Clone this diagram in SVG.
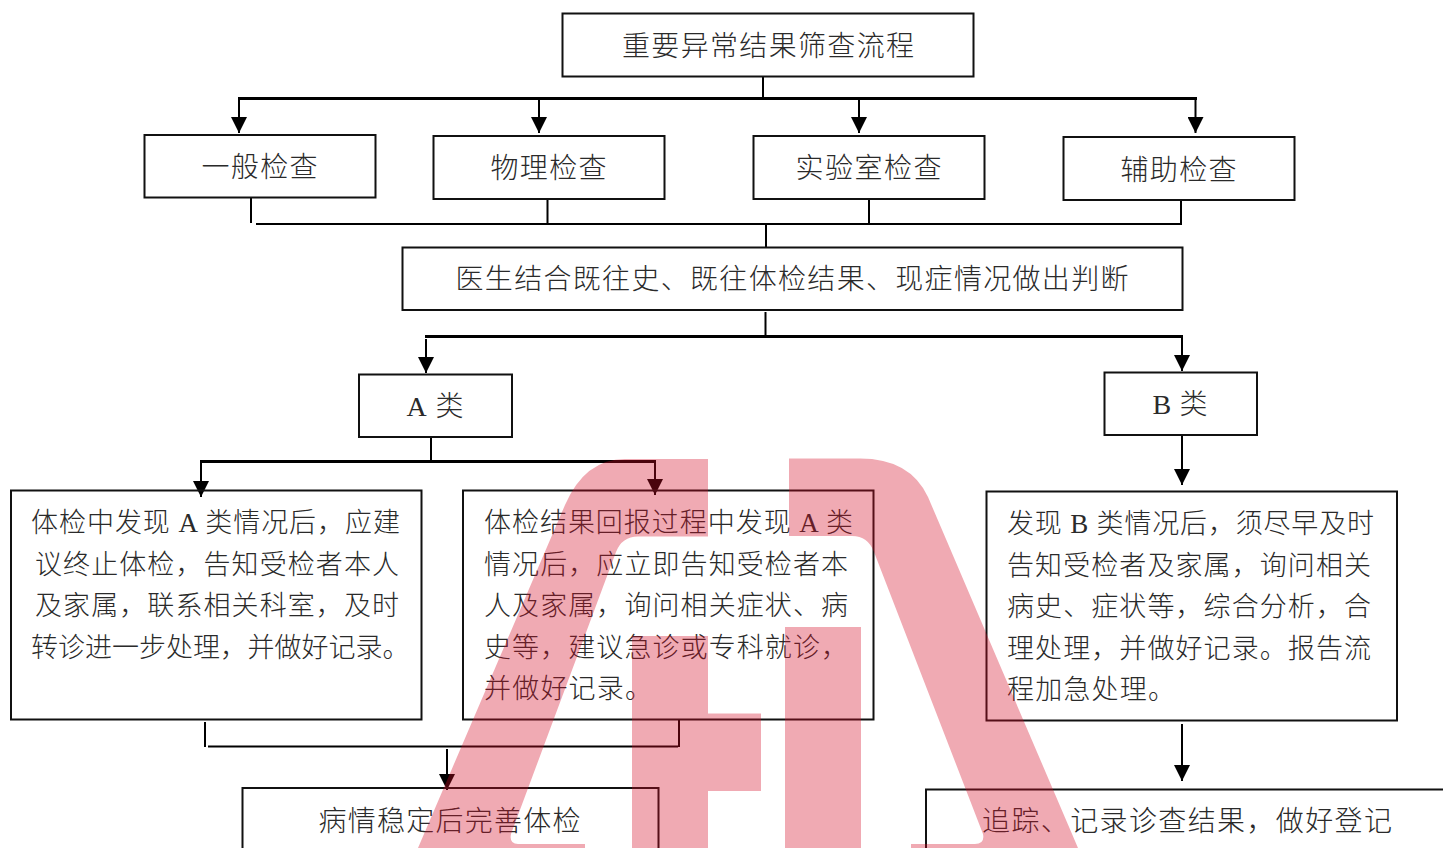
<svg xmlns="http://www.w3.org/2000/svg" width="1443" height="848" viewBox="0 0 1443 848">
<style>
.box{fill:none;stroke:#111;stroke-width:2}
.t{font-family:"Liberation Serif","Noto Sans CJK SC",serif;fill:#2a2a2a;font-size:28px;font-weight:300;text-anchor:start}
.b{font-size:27px}
.line{fill:none;stroke:#000;stroke-width:2}
.bus{fill:none;stroke:#000;stroke-width:3}
.arr{fill:none;stroke:#000;stroke-width:2;marker-end:url(#ah)}
.wm{fill:rgb(212,12,36);fill-opacity:.35}
</style>
<defs>
<marker id="ah" markerUnits="userSpaceOnUse" viewBox="0 0 16 16" refX="16" refY="8" markerWidth="16" markerHeight="16" orient="auto"><path d="M0 0L16 8L0 16Z" fill="#000"/></marker>
</defs>
<rect width="1443" height="848" fill="#fff"/>
<g id="connectors">
<path class="line" d="M763 76V98"/>
<path class="bus" d="M238 98.5H1197"/>
<path class="arr" d="M239 98V133"/>
<path class="arr" d="M539 98V133"/>
<path class="arr" d="M859 98V133"/>
<path class="arr" d="M1195.500 98V133"/>
<path class="line" d="M251 198V223M547.500 199V224M869 199V224M1181 200V224M256 224H1182M766 224V247"/>
<path class="line" d="M765.500 312V336"/>
<path class="bus" d="M425 336.500H1183"/>
<path class="arr" d="M426 339V373"/>
<path class="arr" d="M1182 337V371"/>
<path class="line" d="M431 437V461"/>
<path class="bus" d="M200 461.500H656"/>
<path class="arr" d="M201 462V497"/>
<path class="arr" d="M655 462V495"/>
<path class="arr" d="M1182 435V485"/>
<path class="line" d="M205 722V747M208 746.500H678M679 720V747"/>
<path class="arr" d="M447 749V790"/>
<path class="arr" d="M1182 724V781"/>
</g>
<g id="n-title"><rect class="box" x="562.500" y="13.500" width="411" height="63"/><text class="t" x="622" y="56" textLength="292">重要异常结果筛查流程</text></g>
<g id="n-general"><rect class="box" x="144.500" y="135" width="231" height="62.500"/><text class="t" x="201.500" y="177" textLength="116">一般检查</text></g>
<g id="n-physical"><rect class="box" x="433.500" y="136" width="231" height="63"/><text class="t" x="490.500" y="178" textLength="116">物理检查</text></g>
<g id="n-lab"><rect class="box" x="753.500" y="136" width="231" height="63"/><text class="t" x="795.500" y="178" textLength="146">实验室检查</text></g>
<g id="n-aux"><rect class="box" x="1063.500" y="137" width="231" height="63"/><text class="t" x="1120.500" y="180" textLength="116">辅助检查</text></g>
<g id="n-doctor"><rect class="box" x="402.500" y="247.500" width="780" height="62.500"/><text class="t" x="455.500" y="289" textLength="673">医生结合既往史、既往体检结果、现症情况做出判断</text></g>
<g id="n-a"><rect class="box" x="359" y="374.500" width="153" height="62.500"/><text class="t" x="406.500" y="416" textLength="57">A 类</text></g>
<g id="n-b"><rect class="box" x="1104.500" y="372.500" width="152.500" height="62.500"/><text class="t" x="1152.500" y="414" textLength="55">B 类</text></g>
<g id="n-a1"><rect class="box" x="11" y="490.500" width="410.500" height="229"/>
<text class="t b" x="31" y="532" textLength="369">体检中发现 A 类情况后，应建</text>
<text class="t b" x="35" y="574" textLength="364">议终止体检，告知受检者本人</text>
<text class="t b" x="35" y="615" textLength="364">及家属，联系相关科室，及时</text>
<text class="t b" y="657"><tspan x="31">转诊进一步处理，</tspan><tspan x="247.500">并做好记录。</tspan></text></g>
<g id="n-a2"><rect class="box" x="463" y="490.500" width="410.500" height="229"/>
<text class="t b" x="484" y="532" textLength="369">体检结果回报过程中发现 A 类</text>
<text class="t b" x="484" y="574" textLength="364">情况后，应立即告知受检者本</text>
<text class="t b" x="484" y="615" textLength="364">人及家属，询问相关症状、病</text>
<text class="t b" x="484" y="657" textLength="364">史等，建议急诊或专科就诊，</text>
<text class="t b" x="484" y="698" textLength="168">并做好记录。</text></g>
<g id="n-b1"><rect class="box" x="986.500" y="491.500" width="410.500" height="229"/>
<text class="t b" x="1007" y="533" textLength="367">发现 B 类情况后，须尽早及时</text>
<text class="t b" x="1007" y="575" textLength="364">告知受检者及家属，询问相关</text>
<text class="t b" x="1007" y="616" textLength="364">病史、症状等，综合分析，合</text>
<text class="t b" x="1007" y="658" textLength="364">理处理，并做好记录。报告流</text>
<text class="t b" x="1007" y="699" textLength="168">程加急处理。</text></g>
<g id="n-a3"><rect class="box" x="242.500" y="788" width="416" height="120"/><text class="t" x="318.500" y="831" textLength="262">病情稳定后完善体检</text></g>
<g id="n-b2"><rect class="box" x="926" y="789.500" width="600" height="120"/><text class="t" x="982" y="831" textLength="410">追踪、记录诊查结果，做好登记</text></g>
<g id="watermark">
<path class="wm" d="M418 848L565 505Q585 459 625 459H708V536.500H638Q622 536.500 616 552L511 834Q509 844 518 844H585V848Z"/>
<path class="wm" d="M632 636H708V713.500H761V791H708V848H632Z"/>
<rect class="wm" x="785" y="627" width="76" height="221"/>
<path class="wm" d="M789 458.500H860Q910 458.500 928 497L1078 848H911V844H975Q985 844 983 834L874 552Q868 536 852 536H789Z"/>
</g>
</svg>
